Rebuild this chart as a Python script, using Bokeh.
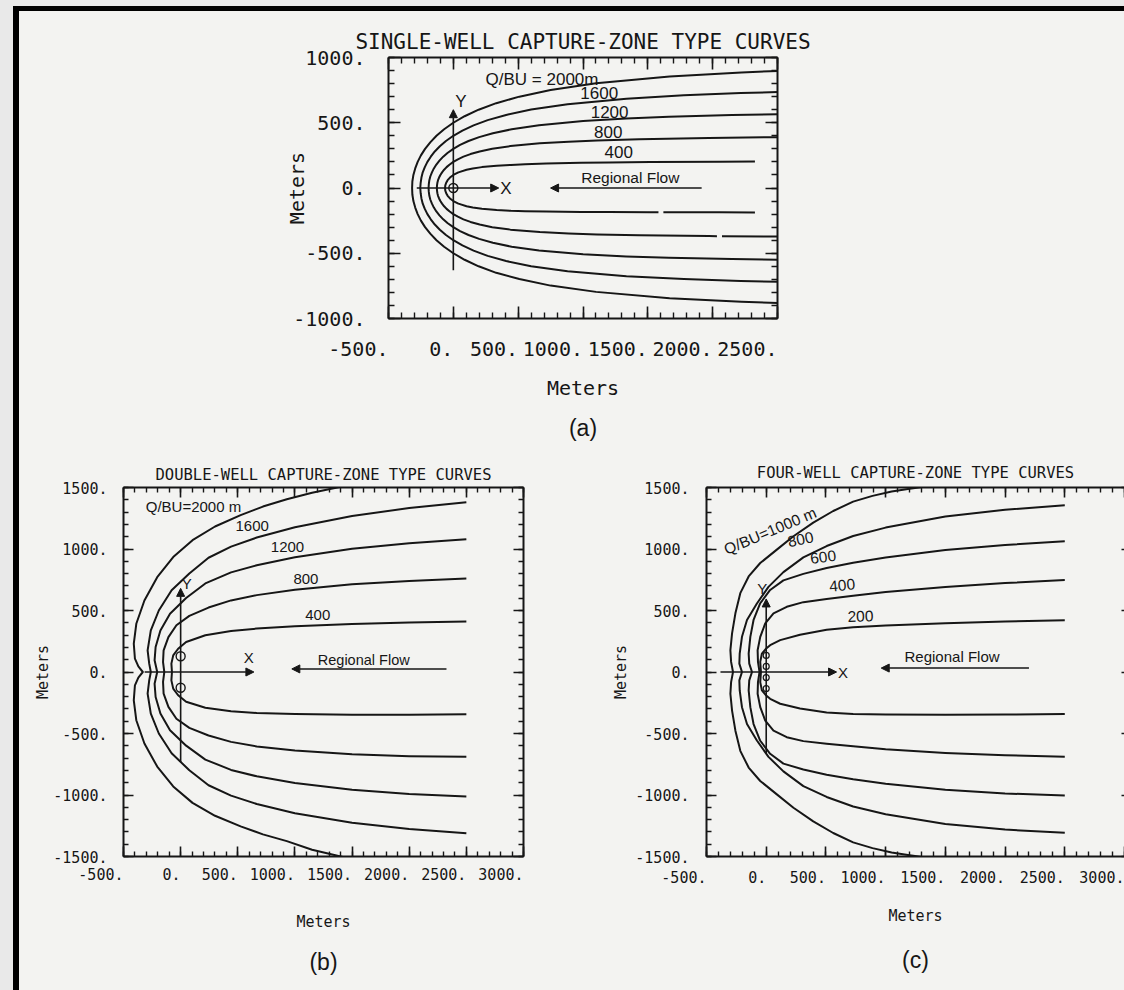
import numpy as np
from bokeh.plotting import figure
from bokeh.layouts import column, row
from bokeh.models import (Spacer, Label, Arrow, NormalHead, LinearAxis, Title,
                          SingleIntervalTicker, Range1d, CustomJSTickFormatter)
from bokeh.embed import file_html
from bokeh.resources import INLINE

GAP = float("nan")

# ---------------- (a) single well ----------------
A_LEVELS = ["Q/BU = 2000m", "1600", "1200", "800", "400"]

A_X_2000 = [2770, 2222, 1668, 1101, 750, 509, 331, 195, 87, 0, -71, -130, -178, -218, -250, -275, -294, -308, -316, -318,
            -316, -308, -294, -275, -250, -218, -178, -130, -71, 0, 87, 195, 331, 509, 750, 1101, 1668, 2222, 2770]
A_Y_2000 = [908, 886, 854, 802, 751, 700, 650, 600, 550, 500, 450, 400, 350, 300, 250, 200, 150, 100, 50, 0,
            -50, -100, -150, -200, -250, -300, -350, -400, -450, -500, -550, -600, -650, -698, -748, -796, -844, -872, -890]
A_X_1600 = [2866, 2216, 1778, 1335, 881, 600, 407, 265, 156, 70, 0, -57, -104, -143, -174, -200, -220, -236, -246, -252, -255,
            -252, -246, -236, -220, -200, -174, -143, -104, -57, 0, 70, 156, 265, 407, 600, 881, 1335, 1778, 2216, 2866]
A_Y_1600 = [744, 728, 710, 684, 642, 601, 560, 520, 480, 440, 400, 360, 320, 280, 240, 200, 160, 120, 80, 40, 0,
            -40, -80, -120, -160, -200, -240, -280, -320, -360, -400, -440, -480, -520, -560, -599, -638, -676, -698, -712, -728]
A_X_1200 = [2956, 2149, 1662, 1333, 1001, 661, 450, 305, 199, 117, 52, 0, -43, -78, -107, -131, -150, -165, -177, -185, -189, -191,
            -189, -185, -177, -165, -150, -131, -107, -78, -43, 0, 52, 117, 199, 305, 450, 661, 1001, 1333, 1662, 2149, 2956]
A_Y_1200 = [570, 560, 546, 532, 513, 481, 450, 420, 390, 360, 330, 300, 270, 240, 210, 180, 150, 120, 90, 60, 30, 0,
            -30, -60, -90, -120, -150, -180, -210, -240, -270, -300, -330, -360, -390, -420, -450, -479, -507, -524, -534, -544, -558]
A_X_800 = [3040, 2399, 1970, 1433, 1108, 889, 667, 440, 300, 203, 132, 78, 35, 0, -28, -52, -71, -87, -100, -110, -118, -123, -126, -127,
           -126, -123, -118, -110, -100, -87, -71, -52, -28, 0, 35, 78, 132, 203, 300, 440, 667, 889, 1108, 1433, 1970, 2033, GAP, 2072, 2399, 3040]
A_Y_800 = [392, 389, 384, 374, 364, 355, 342, 321, 300, 280, 260, 240, 220, 200, 180, 160, 140, 120, 100, 80, 60, 40, 20, 0,
           -20, -40, -60, -80, -100, -120, -140, -160, -180, -200, -220, -240, -260, -280, -300, -319, -338, -349, -356, -362, -368, -369, GAP, -369, -371, -376]
A_X_400 = [2326, 2052, 1520, 1200, 985, 716, 554, 444, 334, 220, 150, 102, 39, 0, -26, -44, -55, -62, -64,
           -62, -55, -44, -26, 0, 39, 102, 150, 220, 334, 444, 554, 716, 985, 1200, 1520, 1582, GAP, 1620, 2052, 2326]
A_Y_400 = [203, 202, 199, 196, 193, 187, 182, 177, 171, 160, 150, 140, 120, 100, 80, 60, 40, 20, 0,
           -20, -40, -60, -80, -100, -120, -140, -150, -159, -169, -175, -178, -181, -183, -184, -185, -186, GAP, -186, -186, -187]

# ---------------- (b) double well ----------------
B_LEVELS = ["Q/BU=2000 m", "1600", "1200", "800", "400"]
B_WELLS_Y = [128, -128]

B_X_2000 = [1800, 1370, 1150, 929, 720, 525, 301, 104, -65, -205, -317, -388, -410, -400, -370, -331,
            -370, -400, -410, -388, -317, -205, -65, 104, 301, 525, 720, 929, 1150, 1400, 1800]
B_Y_2000 = [1585, 1500, 1458, 1405, 1345, 1275, 1183, 1072, 934, 771, 581, 392, 230, 108, 45, 0,
            -45, -108, -230, -392, -581, -769, -930, -1064, -1169, -1255, -1320, -1375, -1445, -1500, -1580]
B_X_1600 = [2500, 2000, 1500, 1000, 666, 441, 244, 76, -79, -191, -261, -289, -275, -261,
            -275, -289, -261, -191, -79, 76, 244, 441, 666, 1000, 1500, 2000, 2500]
B_Y_1600 = [1380, 1333, 1268, 1177, 1093, 1019, 929, 801, 664, 500, 338, 176, 68, 0,
            -68, -176, -338, -500, -660, -799, -921, -1005, -1073, -1148, -1226, -1277, -1310]
B_X_1200 = [2500, 2000, 1500, 1000, 666, 441, 216, 48, -93, -177, -219, -228, -205,
            -228, -219, -177, -93, 48, 216, 441, 666, 1000, 1500, 2000, 2500]
B_Y_1200 = [1080, 1047, 1002, 933, 868, 810, 720, 601, 473, 338, 203, 95, 0,
            -95, -203, -338, -473, -599, -712, -796, -848, -903, -958, -991, -1012]
B_X_800 = [2500, 2000, 1500, 1000, 666, 441, 244, 76, -37, -107, -149, -154, -143,
           -154, -149, -107, -37, 76, 244, 441, 666, 1000, 1500, 2000, 2500]
B_Y_800 = [760, 740, 713, 669, 625, 582, 524, 456, 380, 284, 176, 81, 0,
           -81, -176, -284, -380, -454, -516, -568, -605, -639, -669, -684, -690]
B_X_400 = [2500, 2000, 1500, 1000, 666, 441, 216, 48, -22, -65, -81, -76,
           -81, -65, -22, 48, 216, 441, 666, 1000, 1500, 2000, 2500]
B_Y_400 = [411, 403, 391, 372, 353, 333, 299, 244, 189, 135, 68, 0,
           -68, -135, -189, -242, -291, -319, -333, -342, -347, -347, -344]

# ---------------- (c) four wells ----------------
C_LEVELS = ["Q/BU=1000 m", "800", "600", "400", "200"]
C_WELLS_Y = [135, 45, -45, -135]

C_X_1000 = [1600, 1350, 1200, 1050, 890, 728, 561, 394, 228, 89, -50, -147, -217, -258, -286, -300, -294, -278,
            -294, -300, -286, -258, -217, -147, -50, 89, 228, 394, 561, 728, 890, 1050, 1200, 1350, 1600]
C_Y_1000 = [1540, 1510, 1490, 1467, 1432, 1385, 1309, 1214, 1104, 995, 886, 777, 641, 477, 314, 177, 82, 0,
            -82, -177, -314, -477, -641, -777, -886, -995, -1104, -1214, -1309, -1385, -1432, -1467, -1490, -1510, -1540]
C_X_800 = [2500, 2000, 1500, 1000, 728, 506, 311, 144, 19, -78, -161, -203, -222, -225, -203,
           -225, -222, -203, -161, -78, 19, 144, 311, 506, 728, 1000, 1500, 2000, 2500]
C_Y_800 = [1355, 1319, 1264, 1174, 1106, 1024, 932, 812, 692, 557, 423, 286, 150, 68, 0,
           -68, -150, -286, -423, -557, -690, -808, -928, -1016, -1094, -1156, -1236, -1281, -1307]
C_X_600 = [2500, 2000, 1500, 1000, 728, 506, 311, 144, 33, -50, -106, -133, -147, -142, -119,
           -142, -147, -133, -106, -50, 33, 144, 311, 506, 728, 1000, 1500, 2000, 2500]
C_Y_600 = [1063, 1033, 992, 931, 888, 845, 798, 745, 667, 559, 423, 286, 150, 68, 0,
           -68, -150, -286, -423, -559, -665, -745, -792, -835, -872, -909, -958, -987, -1005]
C_X_400 = [2500, 2000, 1500, 1000, 728, 506, 311, 172, 61, -8, -50, -72, -69, -56,
           -69, -72, -50, -8, 61, 172, 311, 506, 728, 1000, 1500, 2000, 2500]
C_Y_400 = [747, 723, 692, 651, 620, 593, 568, 530, 476, 395, 286, 177, 82, 0,
           -82, -177, -286, -395, -476, -530, -562, -583, -604, -629, -658, -677, -689]
C_X_200 = [2500, 2000, 1500, 1000, 728, 506, 283, 117, 33, 0, -36, -50, -44,
           -50, -36, 0, 33, 117, 283, 506, 728, 1000, 1500, 2000, 2500]
C_Y_200 = [421, 410, 396, 378, 363, 343, 303, 259, 218, 191, 150, 82, 0,
           -82, -150, -191, -218, -258, -297, -329, -341, -346, -348, -346, -341]

INK = "#161616"
PAPER = "#f3f3f1"
OUTSIDE = "#e9e9e9"
MONO = "DejaVu Sans Mono"
SANS = "Liberation Sans"

# x tick labels sit with their final "." at the tick; trailing no-break spaces
# shift the centred label left by half its width.  A label that would run off
# the canvas is left unpadded so Bokeh keeps it inside.
X_LABEL_JS = ("const s = tick.toFixed(0) + '.';"
              "return tick > LIMIT ? s : s + '\\u00a0'.repeat(s.length);")
Y_LABEL_JS = "return tick.toFixed(0) + '.';"
NO_LABEL_JS = "return '';"


def make_axis(fmt, major, minor, font_size="0px", standoff=0, label=None, label_size="15px",
              label_standoff=0, line=True):
    ax = LinearAxis(ticker=SingleIntervalTicker(interval=500, num_minor_ticks=5),
                    formatter=CustomJSTickFormatter(code=fmt),
                    axis_line_color=INK if line else None, axis_line_width=2,
                    major_tick_in=major, major_tick_out=0,
                    minor_tick_in=minor, minor_tick_out=0,
                    major_tick_line_color=INK, minor_tick_line_color=INK,
                    major_tick_line_width=1.6, minor_tick_line_width=1.4,
                    major_label_standoff=standoff,
                    major_label_text_font=MONO, major_label_text_font_size=font_size,
                    major_label_text_color=INK)
    if label:
        ax.axis_label = label
        ax.axis_label_text_font = MONO
        ax.axis_label_text_font_size = label_size
        ax.axis_label_text_font_style = "normal"
        ax.axis_label_text_color = INK
        ax.axis_label_standoff = label_standoff
    return ax


def panel(width, height, xr, yr, borders, ticks, fs, x_std, y_std, xl_std, yl_std,
          title, title_fs, title_std, tag, tag_std, right_major=None, pad_limit=99999):
    left, right, top, bottom = borders
    major, minor = ticks
    p = figure(width=width, height=height, x_range=Range1d(*xr), y_range=Range1d(*yr),
               x_axis_location=None, y_axis_location=None, output_backend="svg",
               toolbar_location=None, min_border_left=left, min_border_right=right,
               min_border_top=top, min_border_bottom=bottom)
    p.background_fill_color = PAPER
    p.border_fill_color = PAPER
    p.outline_line_color = None
    p.grid.visible = False
    size = f"{fs}px"
    xfmt = X_LABEL_JS.replace("LIMIT", str(pad_limit))
    p.add_layout(make_axis(xfmt, major, minor, size, x_std, "Meters", size, xl_std), "below")
    p.add_layout(make_axis(Y_LABEL_JS, major, minor, size, y_std, "Meters", size, yl_std), "left")
    p.add_layout(make_axis(NO_LABEL_JS, major, minor), "above")
    if right_major is None:
        p.add_layout(make_axis(NO_LABEL_JS, major, minor), "right")
    else:
        p.add_layout(make_axis(NO_LABEL_JS, right_major, 0, line=False), "right")
    p.add_layout(Title(text=title, align="center", text_font=MONO, text_font_size=f"{title_fs}px",
                       text_font_style="normal", text_color=INK, standoff=title_std), "above")
    p.add_layout(Title(text=tag, align="center", text_font=SANS, text_font_size="23px",
                       text_font_style="normal", text_color=INK, standoff=tag_std), "below")
    return p


def txt(p, x, y, s, size, font=SANS, angle=0.0):
    p.add_layout(Label(x=x, y=y, text=s, text_font=font, text_font_size=f"{size}px",
                       text_color=INK, text_align="center", text_baseline="middle", angle=angle))


def curve(p, xs, ys):
    p.line(np.array(xs, dtype=float), np.array(ys, dtype=float), line_color=INK, line_width=2,
           line_join="round")


def arrow(p, x0, y0, x1, y1):
    p.add_layout(Arrow(end=NormalHead(size=8, fill_color=INK, line_color=INK, line_width=1),
                       x_start=x0, y_start=y0, x_end=x1, y_end=y1,
                       line_color=INK, line_width=1.6))


# ---------------- panel (a) ----------------
pa = panel(1105, 444, (-500, 2500), (-1000, 1000), (369, 347, 46, 137), (12, 6), 20,
           18, 23, 12, -19, "SINGLE-WELL CAPTURE-ZONE TYPE CURVES", 21, 8, "(a)", 20)
for xs, ys in [(A_X_2000, A_Y_2000), (A_X_1600, A_Y_1600), (A_X_1200, A_Y_1200),
               (A_X_800, A_Y_800), (A_X_400, A_Y_400)]:
    curve(pa, xs, ys)
for s, x, y in zip(A_LEVELS, [684, 1125, 1205, 1195, 1275], [829, 730, 585, 428, 276]):
    txt(pa, x, y, s, 17)
txt(pa, 1365, 80, "Regional Flow", 15.5)
arrow(pa, 1915, 0, 750, 0)
arrow(pa, -282, 0, 350, 0)
arrow(pa, 0, -630, 0, 600)
txt(pa, 405, -5, "X", 17)
txt(pa, 58, 660, "Y", 17)
pa.scatter([0], [0], size=9, marker="circle", fill_color=None, line_color=INK, line_width=1.5)

# ---------------- panel (b) ----------------
pb = panel(571, 535, (-500, 3000), (-1500, 1500), (104, 67, 32, 133), (10, 5), 15,
           9, 16, 26, -2, "DOUBLE-WELL CAPTURE-ZONE TYPE CURVES", 15.5, 8, "(b)", 27)
for xs, ys in [(B_X_2000, B_Y_2000), (B_X_1600, B_Y_1600), (B_X_1200, B_Y_1200),
               (B_X_800, B_Y_800), (B_X_400, B_Y_400)]:
    curve(pb, xs, ys)
for s, x, y in zip(B_LEVELS, [112, 626, 935, 1096, 1200], [1347, 1186, 1016, 755, 465]):
    txt(pb, x, y, s, 15)
txt(pb, 1602, 97, "Regional Flow", 14.5)
arrow(pb, 2326, 25, 973, 25)
arrow(pb, -315, 0, 641, 0)
arrow(pb, 0, -731, 0, 680)
txt(pb, 597, 115, "X", 15)
txt(pb, 53, 720, "Y", 15)
pb.scatter([0] * len(B_WELLS_Y), B_WELLS_Y, size=9, marker="circle", fill_color=None,
           line_color=INK, line_width=1.4)

# ---------------- panel (c) ----------------
pc = panel(534, 535, (-500, 3000), (-1500, 1500), (116, 0, 32, 133), (10, 5), 15,
           12, 17, 17, 2, "FOUR-WELL CAPTURE-ZONE TYPE CURVES", 15.5, 11, "(c)", 35,
           right_major=3, pad_limit=2900)
for xs, ys in [(C_X_1000, C_Y_1000), (C_X_800, C_Y_800), (C_X_600, C_Y_600),
               (C_X_400, C_Y_400), (C_X_200, C_Y_200)]:
    curve(pc, xs, ys)
for s, x, y, a in zip(C_LEVELS, [33, 289, 477, 636, 789], [1148, 1075, 932, 703, 451],
                      [0.40, 0.21, 0.14, 0.09, 0.03]):
    txt(pc, x, y, s, 15.5, angle=a)
txt(pc, 1556, 130, "Regional Flow", 15)
arrow(pc, 2200, 32, 963, 32)
arrow(pc, -383, 0, 589, 0)
arrow(pc, 0, -662, 0, 594)
txt(pc, 644, 0, "X", 15)
txt(pc, -33, 675, "Y", 15)
pc.scatter([0] * len(C_WELLS_Y), C_WELLS_Y, size=6, marker="circle", fill_color=None,
           line_color=INK, line_width=1.2)


# ---------------- page assembly ----------------
def strip(w, h, color):
    return Spacer(width=w, height=h, styles={"background-color": color})


content = column(pa, row(pb, pc, styles={"background-color": PAPER}),
                 styles={"background-color": PAPER})
page = column(
    strip(1124, 6, OUTSIDE),
    row(strip(13, 5, OUTSIDE), strip(1111, 5, "#000000")),
    row(strip(13, 979, OUTSIDE), strip(6, 979, "#000000"), content),
)

open("out.html", "w").write(file_html(page, INLINE))
